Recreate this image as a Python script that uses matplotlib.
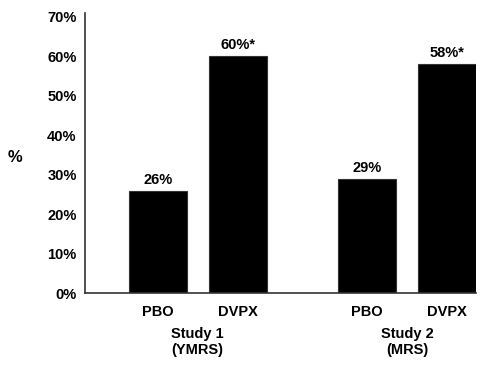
import matplotlib
matplotlib.use("Agg")
import matplotlib.pyplot as plt

plt.rcParams['font.family'] = ["Liberation Sans", "DejaVu Sans"]

groups = ["Study 1\n(YMRS)", "Study 2\n(MRS)"]
bar_labels = ["PBO", "DVPX", "PBO", "DVPX"]
values = [26, 60, 29, 58]
value_texts = ["26%", "60%*", "29%", "58%*"]
yticks = [0, 10, 20, 30, 40, 50, 60, 70]

positions = [0, 1, 2.62, 3.62]
FS = 10.5

fig = plt.figure(figsize=(4.9, 3.65), dpi=100)
ax = fig.add_axes([0.1735, 0.196, 0.971 - 0.1735, 0.9636 - 0.196])

ax.bar(positions, values, width=0.725, color="black", edgecolor="#333333", linewidth=0.8)
for p, v, t in zip(positions, values, value_texts):
    ax.text(p, v + 1.0, t, ha="center", va="bottom", fontsize=FS, fontweight="bold")

ax.set_xlim(-0.91, 3.98)
ax.set_ylim(0, 70.8)
ax.set_yticks(yticks)
ax.set_yticklabels([f"{y}%" for y in yticks], fontsize=FS, fontweight="bold")
ax.set_xticks(positions)
ax.set_xticklabels(bar_labels, fontsize=FS, fontweight="bold")
ax.tick_params(axis="both", length=0)
ax.tick_params(axis="y", pad=6)
ax.tick_params(axis="x", pad=8)

for s in ["top", "right"]:
    ax.spines[s].set_visible(False)
for s in ["left", "bottom"]:
    ax.spines[s].set_color("#333333")
    ax.spines[s].set_linewidth(1.2)

group_centers = [(positions[0] + positions[1]) / 2, (positions[2] + positions[3]) / 2]
for c, g in zip(group_centers, groups):
    ax.text(c, -8.4, g, ha="center", va="top", fontsize=FS, fontweight="bold",
            linespacing=1.2, transform=ax.transData, clip_on=False)

fig.text(15 / 490, 1 - 158 / 365, "%", ha="center", va="center", fontsize=12, fontweight="bold")

fig.savefig("out.png", dpi=100, facecolor="white")
